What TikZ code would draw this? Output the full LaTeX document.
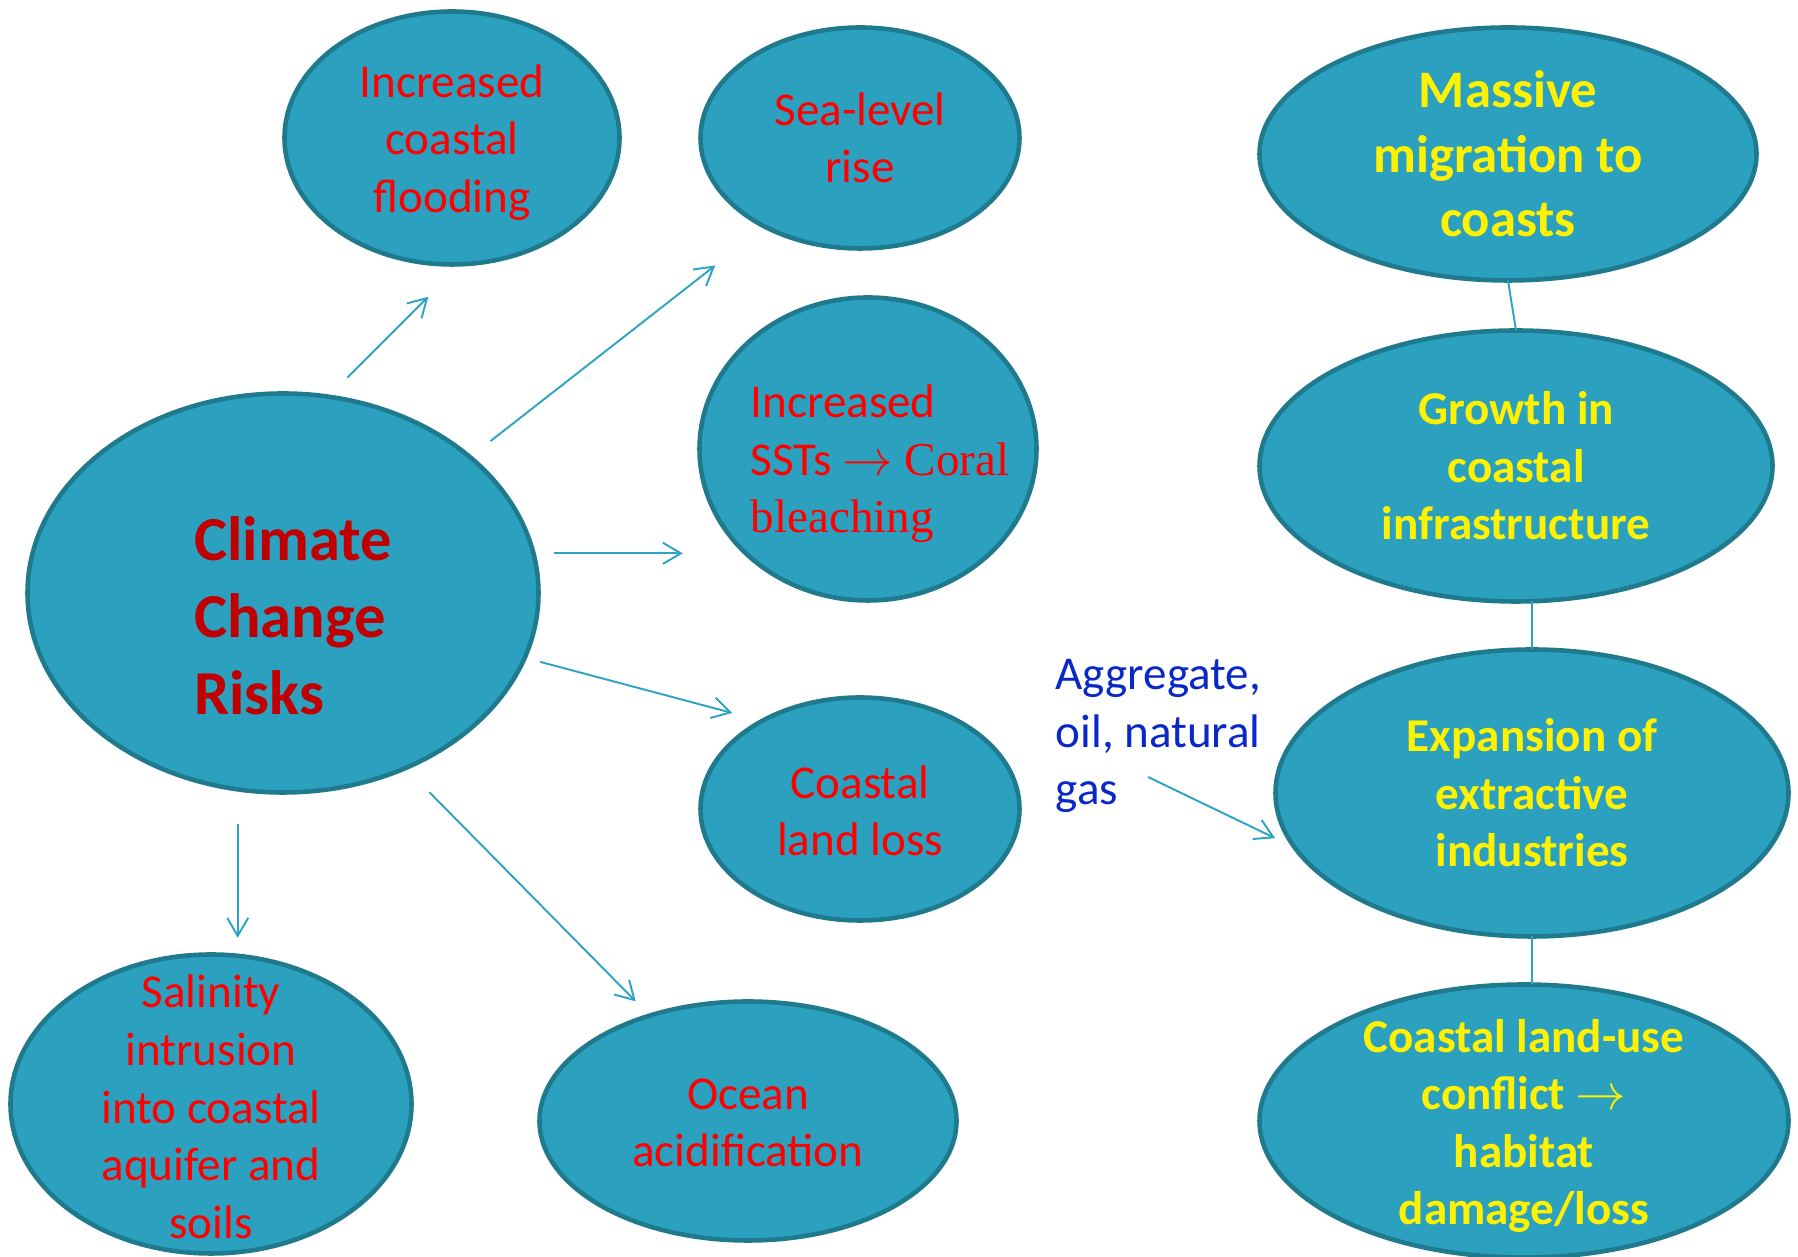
\documentclass[tikz,border=0pt]{standalone}
\usepackage{fontspec}
\setmainfont{Carlito}
\newfontfamily\timesfont{Liberation Serif}
\usetikzlibrary{calc,arrows.meta,shapes.geometric}
\definecolor{seablue}{RGB}{44,161,191}
\definecolor{seaedge}{RGB}{31,122,142}
\definecolor{linkblue}{RGB}{47,163,196}
\definecolor{riskred}{RGB}{192,0,0}
\definecolor{gasblue}{RGB}{10,40,200}
\tikzset{
  blob/.style={ellipse,fill=seablue,draw=seaedge,line width=1.3pt,inner sep=0pt,outer sep=0pt},
  redtxt/.style={text=red,align=center,font={\fontsize{13.4}{16.4}\selectfont}},
  yeltxt/.style={text=yellow,align=center,font={\fontsize{13.4}{16.4}\selectfont\bfseries}},
  arr/.style={draw=linkblue,line width=0.55pt,-{Straight Barb[length=1.8mm,width=2.1mm]}},
  link/.style={draw=linkblue,line width=0.55pt}
}

\begin{document}
\begin{tikzpicture}
\useasboundingbox (0,0) rectangle (17.98,-12.57);
\node[blob,minimum width=3.35cm,minimum height=2.53cm,label={[redtxt,yshift=-0.45mm]center:Increased\\coastal\\flooding}] (flood) at (4.52,-1.38) {};
\node[blob,minimum width=3.19cm,minimum height=2.21cm,label={[redtxt]center:Sea-level\\rise}] (slr) at (8.60,-1.38) {};
\node[blob,minimum width=3.37cm,minimum height=3.03cm,label={[redtxt,align=left,xshift=1.2mm,yshift=-1.5mm]center:Increased\\SSTs {\timesfont$\rightarrow$ Coral}\\{\timesfont bleaching}}] (sst) at (8.68,-4.49) {};
\node[blob,minimum width=5.11cm,minimum height=3.99cm,label={[text=riskred,align=left,font={\fontsize{17.8}{21.9}\selectfont\bfseries},xshift=1mm,yshift=-2.3mm]center:Climate\\Change\\Risks}] (ccr) at (2.83,-5.93) {};
\node[blob,minimum width=3.19cm,minimum height=2.23cm,label={[redtxt,yshift=-0.2mm]center:Coastal\\land loss}] (loss) at (8.60,-8.09) {};
\node[blob,minimum width=4.17cm,minimum height=2.39cm,label={[redtxt,yshift=-0.2mm]center:Ocean\\acidification}] (ocean) at (7.48,-11.21) {};
\node[blob,minimum width=4.01cm,minimum height=2.99cm,label={[redtxt,yshift=-0.3mm]center:Salinity\\intrusion\\into coastal\\aquifer and\\soils}] (salin) at (2.11,-11.04) {};
\node[blob,minimum width=4.97cm,minimum height=2.53cm,label={[yeltxt,font={\fontsize{15}{18.3}\selectfont\bfseries}]center:Massive\\migration to\\coasts}] (mig) at (15.08,-1.54) {};
\node[blob,minimum width=5.13cm,minimum height=2.71cm,label={[yeltxt]center:Growth in\\coastal\\infrastructure}] (grow) at (15.16,-4.66) {};
\node[blob,minimum width=5.13cm,minimum height=2.87cm,label={[yeltxt]center:Expansion of\\extractive\\industries}] (exp) at (15.32,-7.93) {};
\node[blob,minimum width=5.29cm,minimum height=2.73cm,label={[yeltxt,yshift=-0.5mm]center:Coastal land-use\\conflict $\rightarrow$\\habitat\\damage/loss}] (use) at (15.24,-11.21) {};
\node[text=gasblue,align=left,anchor=west,inner sep=0pt,font={\fontsize{13.4}{16.4}\selectfont}] (aggr) at (10.55,-7.36) {Aggregate,\\oil, natural\\gas};
\coordinate (gasend) at (11.48,-7.77);
\draw[arr,shorten <=2.7mm,shorten >=4.6mm] (ccr.77.4) -- (flood.-86.5);
\draw[arr,shorten <=2.6mm,shorten >=6.3mm] (ccr.36) -- (slr.-137.2);
\draw[arr,shorten <=2.1mm,shorten >=6.2mm] (ccr.9.6) -- (ccr.9.6 -| sst.220.3);
\draw[arr,shorten <=1.6mm,shorten >=3.1mm] (ccr.-15.75) -- (loss.138.5);
\draw[arr,shorten <=3.4mm,shorten >=2mm] (ccr.-55.6) -- (ocean.133.1);
\draw[arr,shorten <=3.5mm,shorten >=1.8mm] (ccr.-103.2) -- (ccr.-103.2 |- salin.80.9);
\draw[arr,shorten >=2.2mm] (gasend) -- (exp.193.2);
\draw[link] (mig.south) -- (grow.north);
\draw[link] (exp.north) -- (exp.north |- grow.south);
\draw[link] (exp.south) -- (exp.south |- use.north);
\end{tikzpicture}
\end{document}
